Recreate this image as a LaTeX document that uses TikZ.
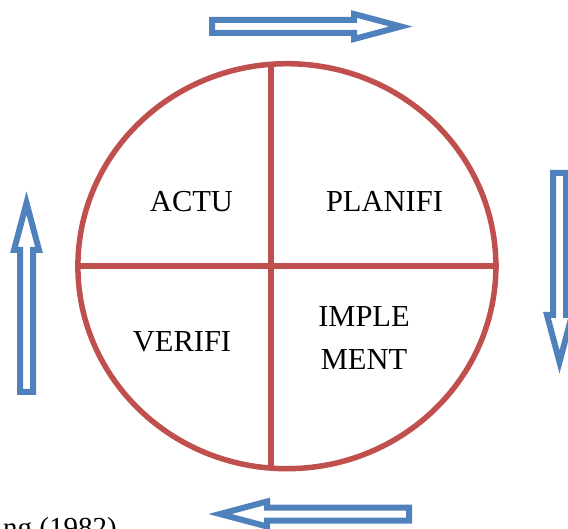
\documentclass[tikz,border=0pt]{standalone}
\usepackage{fontspec}
\setmainfont{Liberation Serif}
\usetikzlibrary{shapes.geometric}
\definecolor{ringred}{HTML}{C0504D}
\definecolor{flowblue}{HTML}{4F81BD}
\tikzset{
  ringline/.style={draw=ringred, line width=5.5pt},
  quadtext/.style={font=\fontsize{30.5}{36}\selectfont, inner sep=0pt, anchor=base},
  flowarrow/.pic={
    \draw[draw=flowblue, fill=white, line width=6pt, miter limit=20]
      (0,-6.5) -- (142,-6.5) -- (142,-12.5) -- (189,0) -- (142,12.5)
      -- (142,6.5) -- (0,6.5) -- cycle;
  }
}
\begin{document}
\begin{tikzpicture}[x=1pt,y=-1pt]
  \clip (0,0) rectangle (568,529);

  % cycle ring split into four quadrants
  \node[ellipse, minimum width=418pt, minimum height=405pt, inner sep=0pt, ringline]
    (cyc) at (286.9,266.2) {};
  \coordinate (vtop) at (271,64.3);
  \coordinate (vbot) at (271,468.1);
  \draw[ringline] (cyc.west) -- (cyc.east);
  \draw[ringline] (vtop) -- (vbot);

  % quadrant labels
  \node[quadtext] (actu) at (191.5,212) {ACTU};
  \node[quadtext] (plan) at (384.5,212) {PLANIFI};
  \node[quadtext] (veri) at (182,352) {VERIFI};
  \node[quadtext] (impA) at (364,327) {IMPLE};
  \node[quadtext] (impB) at (364,370) {MENT};

  % direction arrows around the ring
  \pic (arrTop)   [rotate=0]   at (212,26.5)  {flowarrow};
  \pic (arrRight) [rotate=-90] at (559.5,173) {flowarrow};
  \pic (arrBot)   [rotate=180] at (409,514)   {flowarrow};
  \pic (arrLeft)  [rotate=90]  at (26.5,392)  {flowarrow};

  % source line
  \node[font=\fontsize{29}{34}\selectfont, inner sep=0pt, anchor=base west]
    (src) at (3,537) {ng (1982)};
\end{tikzpicture}
\end{document}
